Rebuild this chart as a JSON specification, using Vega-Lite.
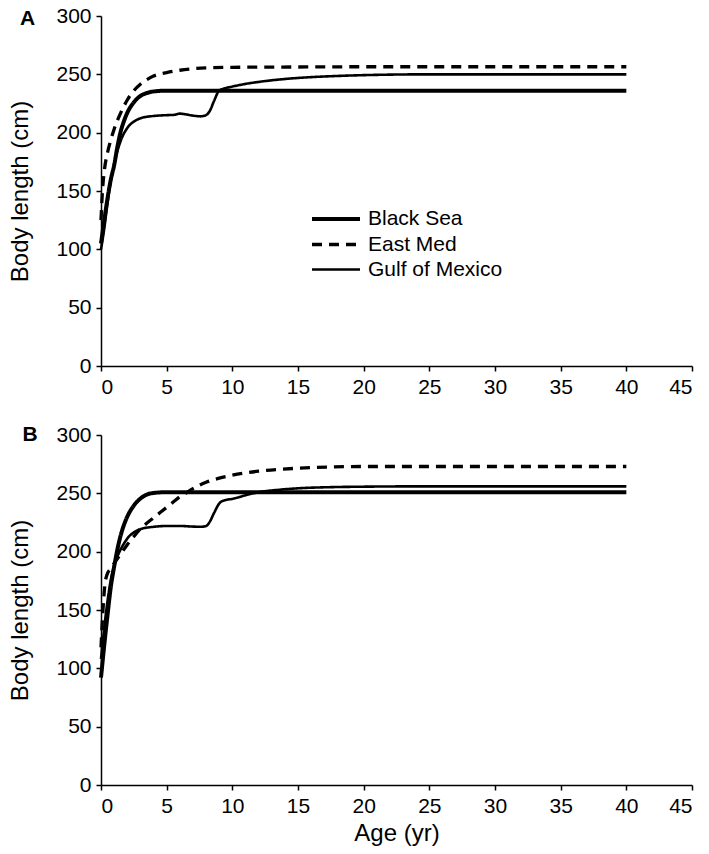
{
  "$schema": "https://vega.github.io/schema/vega-lite/v6.json",
  "autosize": {"type": "pad"},
  "padding": {"left": 8, "top": 5, "right": 4, "bottom": 6},
  "background": "white",
  "config": {
    "view": {"stroke": null},
    "font": "Liberation Sans",
    "axis": {
      "domainColor": "black", "domainWidth": 1.5, "tickColor": "black", "tickWidth": 1.5, "tickSize": 5,
      "labelColor": "black", "labelFontSize": 21, "labelFont": "Liberation Sans", "labelPadding": 5,
      "titleColor": "black", "titleFontSize": 24, "titleFont": "Liberation Sans", "titleFontWeight": "normal",
      "grid": false
    }
  },
  "datasets": {
    "d": [
      {"p":"A","s":"Black Sea","t":0,"v":105},{"p":"A","s":"Black Sea","t":0.25,"v":125},{"p":"A","s":"Black Sea","t":0.5,"v":144},{"p":"A","s":"Black Sea","t":0.75,"v":160},{"p":"A","s":"Black Sea","t":1,"v":172},{"p":"A","s":"Black Sea","t":1.25,"v":188},{"p":"A","s":"Black Sea","t":1.5,"v":201},{"p":"A","s":"Black Sea","t":1.75,"v":210},{"p":"A","s":"Black Sea","t":2,"v":217},{"p":"A","s":"Black Sea","t":2.5,"v":226},{"p":"A","s":"Black Sea","t":3,"v":231.5},{"p":"A","s":"Black Sea","t":3.5,"v":234},{"p":"A","s":"Black Sea","t":4,"v":235.3},{"p":"A","s":"Black Sea","t":5,"v":236},{"p":"A","s":"Black Sea","t":7,"v":236},{"p":"A","s":"Black Sea","t":10,"v":236},{"p":"A","s":"Black Sea","t":20,"v":236},{"p":"A","s":"Black Sea","t":30,"v":236},{"p":"A","s":"Black Sea","t":40,"v":236},
      {"p":"A","s":"East Med","t":0,"v":125},{"p":"A","s":"East Med","t":0.1,"v":148},{"p":"A","s":"East Med","t":0.25,"v":167},{"p":"A","s":"East Med","t":0.5,"v":183},{"p":"A","s":"East Med","t":0.75,"v":194},{"p":"A","s":"East Med","t":1,"v":203},{"p":"A","s":"East Med","t":1.5,"v":217},{"p":"A","s":"East Med","t":2,"v":228},{"p":"A","s":"East Med","t":2.5,"v":236},{"p":"A","s":"East Med","t":3,"v":241.5},{"p":"A","s":"East Med","t":3.5,"v":245.5},{"p":"A","s":"East Med","t":4,"v":248.5},{"p":"A","s":"East Med","t":5,"v":251.5},{"p":"A","s":"East Med","t":6,"v":253.5},{"p":"A","s":"East Med","t":7,"v":254.8},{"p":"A","s":"East Med","t":8,"v":255.5},{"p":"A","s":"East Med","t":10,"v":256},{"p":"A","s":"East Med","t":15,"v":256.3},{"p":"A","s":"East Med","t":20,"v":256.5},{"p":"A","s":"East Med","t":30,"v":256.5},{"p":"A","s":"East Med","t":40,"v":256.5},
      {"p":"A","s":"Gulf of Mexico","t":0,"v":100},{"p":"A","s":"Gulf of Mexico","t":0.25,"v":118},{"p":"A","s":"Gulf of Mexico","t":0.5,"v":140},{"p":"A","s":"Gulf of Mexico","t":0.75,"v":159},{"p":"A","s":"Gulf of Mexico","t":1,"v":173},{"p":"A","s":"Gulf of Mexico","t":1.5,"v":193},{"p":"A","s":"Gulf of Mexico","t":2,"v":204},{"p":"A","s":"Gulf of Mexico","t":2.5,"v":209.5},{"p":"A","s":"Gulf of Mexico","t":3,"v":212.3},{"p":"A","s":"Gulf of Mexico","t":4,"v":214.3},{"p":"A","s":"Gulf of Mexico","t":5,"v":215},{"p":"A","s":"Gulf of Mexico","t":5.6,"v":215.3},{"p":"A","s":"Gulf of Mexico","t":6,"v":216.3},{"p":"A","s":"Gulf of Mexico","t":6.4,"v":215.8},{"p":"A","s":"Gulf of Mexico","t":7,"v":214.6},{"p":"A","s":"Gulf of Mexico","t":7.6,"v":214},{"p":"A","s":"Gulf of Mexico","t":8,"v":215},{"p":"A","s":"Gulf of Mexico","t":8.3,"v":219},{"p":"A","s":"Gulf of Mexico","t":8.6,"v":227},{"p":"A","s":"Gulf of Mexico","t":9,"v":236},{"p":"A","s":"Gulf of Mexico","t":9.5,"v":238.2},{"p":"A","s":"Gulf of Mexico","t":10,"v":239.5},{"p":"A","s":"Gulf of Mexico","t":11,"v":241.8},{"p":"A","s":"Gulf of Mexico","t":12,"v":243.5},{"p":"A","s":"Gulf of Mexico","t":14,"v":246},{"p":"A","s":"Gulf of Mexico","t":16,"v":247.6},{"p":"A","s":"Gulf of Mexico","t":18,"v":248.6},{"p":"A","s":"Gulf of Mexico","t":20,"v":249.3},{"p":"A","s":"Gulf of Mexico","t":25,"v":250},{"p":"A","s":"Gulf of Mexico","t":30,"v":250},{"p":"A","s":"Gulf of Mexico","t":40,"v":250},
      {"p":"B","s":"Black Sea","t":0,"v":92},{"p":"B","s":"Black Sea","t":0.25,"v":120},{"p":"B","s":"Black Sea","t":0.5,"v":146},{"p":"B","s":"Black Sea","t":0.75,"v":170},{"p":"B","s":"Black Sea","t":1,"v":187},{"p":"B","s":"Black Sea","t":1.25,"v":202},{"p":"B","s":"Black Sea","t":1.5,"v":214},{"p":"B","s":"Black Sea","t":1.75,"v":223},{"p":"B","s":"Black Sea","t":2,"v":230},{"p":"B","s":"Black Sea","t":2.5,"v":239.5},{"p":"B","s":"Black Sea","t":3,"v":245.5},{"p":"B","s":"Black Sea","t":3.5,"v":249},{"p":"B","s":"Black Sea","t":4,"v":250.3},{"p":"B","s":"Black Sea","t":5,"v":251},{"p":"B","s":"Black Sea","t":7,"v":251},{"p":"B","s":"Black Sea","t":10,"v":251},{"p":"B","s":"Black Sea","t":20,"v":251},{"p":"B","s":"Black Sea","t":30,"v":251},{"p":"B","s":"Black Sea","t":40,"v":251},
      {"p":"B","s":"East Med","t":0,"v":118},{"p":"B","s":"East Med","t":0.15,"v":150},{"p":"B","s":"East Med","t":0.3,"v":172},{"p":"B","s":"East Med","t":0.45,"v":180},{"p":"B","s":"East Med","t":0.7,"v":185},{"p":"B","s":"East Med","t":1,"v":190},{"p":"B","s":"East Med","t":1.5,"v":198},{"p":"B","s":"East Med","t":2,"v":206},{"p":"B","s":"East Med","t":2.5,"v":213},{"p":"B","s":"East Med","t":3,"v":219.5},{"p":"B","s":"East Med","t":3.5,"v":224.5},{"p":"B","s":"East Med","t":4,"v":229},{"p":"B","s":"East Med","t":4.5,"v":233.5},{"p":"B","s":"East Med","t":5,"v":238},{"p":"B","s":"East Med","t":5.5,"v":242.5},{"p":"B","s":"East Med","t":6,"v":247},{"p":"B","s":"East Med","t":6.5,"v":250.5},{"p":"B","s":"East Med","t":7,"v":254},{"p":"B","s":"East Med","t":7.5,"v":257},{"p":"B","s":"East Med","t":8,"v":259.5},{"p":"B","s":"East Med","t":9,"v":263},{"p":"B","s":"East Med","t":10,"v":265.5},{"p":"B","s":"East Med","t":11,"v":267.5},{"p":"B","s":"East Med","t":12,"v":269},{"p":"B","s":"East Med","t":15,"v":271.5},{"p":"B","s":"East Med","t":20,"v":273},{"p":"B","s":"East Med","t":25,"v":273},{"p":"B","s":"East Med","t":30,"v":273},{"p":"B","s":"East Med","t":40,"v":273},
      {"p":"B","s":"Gulf of Mexico","t":0,"v":108},{"p":"B","s":"Gulf of Mexico","t":0.25,"v":135},{"p":"B","s":"Gulf of Mexico","t":0.5,"v":158},{"p":"B","s":"Gulf of Mexico","t":0.75,"v":176},{"p":"B","s":"Gulf of Mexico","t":1,"v":188},{"p":"B","s":"Gulf of Mexico","t":1.37,"v":199},{"p":"B","s":"Gulf of Mexico","t":1.75,"v":207},{"p":"B","s":"Gulf of Mexico","t":2.13,"v":213},{"p":"B","s":"Gulf of Mexico","t":2.5,"v":216.5},{"p":"B","s":"Gulf of Mexico","t":3,"v":219.3},{"p":"B","s":"Gulf of Mexico","t":4,"v":221.3},{"p":"B","s":"Gulf of Mexico","t":5,"v":222},{"p":"B","s":"Gulf of Mexico","t":6,"v":222},{"p":"B","s":"Gulf of Mexico","t":7,"v":221.5},{"p":"B","s":"Gulf of Mexico","t":7.6,"v":221.3},{"p":"B","s":"Gulf of Mexico","t":8,"v":222},{"p":"B","s":"Gulf of Mexico","t":8.3,"v":226},{"p":"B","s":"Gulf of Mexico","t":8.6,"v":233},{"p":"B","s":"Gulf of Mexico","t":9.1,"v":242.5},{"p":"B","s":"Gulf of Mexico","t":9.5,"v":244.3},{"p":"B","s":"Gulf of Mexico","t":10,"v":245.2},{"p":"B","s":"Gulf of Mexico","t":10.8,"v":247.7},{"p":"B","s":"Gulf of Mexico","t":12,"v":251},{"p":"B","s":"Gulf of Mexico","t":13.5,"v":253},{"p":"B","s":"Gulf of Mexico","t":15,"v":254.3},{"p":"B","s":"Gulf of Mexico","t":17.5,"v":255.3},{"p":"B","s":"Gulf of Mexico","t":20,"v":255.7},{"p":"B","s":"Gulf of Mexico","t":25,"v":256},{"p":"B","s":"Gulf of Mexico","t":30,"v":256},{"p":"B","s":"Gulf of Mexico","t":40,"v":256}
    ],
    "labels": [{"p":"A","lab":"A"},{"p":"B","lab":"B"}]
  },
  "bounds": "flush",
  "spacing": 69,
  "resolve": {"legend": {"strokeDash": "independent", "strokeWidth": "independent"}},
  "vconcat": [
    {
      "width": 591, "height": 350,
      "layer": [
        {
          "data": {"name": "d"},
          "transform": [{"filter": "datum.p === 'A'"}],
          "mark": {"type": "line", "color": "black", "interpolate": "monotone"},
          "encoding": {
            "x": {"field": "t", "type": "quantitative", "scale": {"domain": [0, 45], "nice": false}, "axis": {"title": null, "values": [0,5,10,15,20,25,30,35,40,45]}},
            "y": {"field": "v", "type": "quantitative", "scale": {"domain": [0, 300], "nice": false}, "axis": {"title": "Body length (cm)", "titlePadding": 23, "values": [0,50,100,150,200,250,300]}},
            "strokeDash": {"field": "s", "type": "ordinal", "scale": {"domain": ["Black Sea","East Med","Gulf of Mexico"], "range": [[1,0],[10,7],[1,0]]},
              "legend": {"title": null, "orient": "none", "legendX": 221, "legendY": 189, "symbolType": "M-2,0H2", "symbolSize": 576, "symbolStrokeColor": "black", "symbolFillColor": "transparent", "labelFontSize": 21, "labelColor": "black", "labelFont": "Liberation Sans", "labelOffset": 18, "rowPadding": 1.5, "padding": 0}},
            "strokeWidth": {"field": "s", "type": "ordinal", "scale": {"domain": ["Black Sea","East Med","Gulf of Mexico"], "range": [4, 2.6, 1.1]},
              "legend": {"title": null, "orient": "none", "legendX": 221, "legendY": 189, "symbolType": "M-2,0H2", "symbolSize": 576, "symbolStrokeColor": "black", "symbolFillColor": "transparent", "labelFontSize": 21, "labelColor": "black", "labelFont": "Liberation Sans", "labelOffset": 18, "rowPadding": 1.5, "padding": 0}}
          }
        },
        {
          "data": {"name": "labels"},
          "transform": [{"filter": "datum.p === 'A'"}],
          "mark": {"type": "text", "fontSize": 21, "fontWeight": "bold", "font": "Liberation Sans", "color": "black", "align": "center", "baseline": "alphabetic"},
          "encoding": {
            "text": {"field": "lab"},
            "x": {"datum": -5.6, "type": "quantitative"},
            "y": {"datum": 292, "type": "quantitative"}
          }
        }
      ]
    },
    {
      "width": 591, "height": 350,
      "layer": [
        {
          "data": {"name": "d"},
          "transform": [{"filter": "datum.p === 'B'"}],
          "mark": {"type": "line", "color": "black", "interpolate": "monotone"},
          "encoding": {
            "x": {"field": "t", "type": "quantitative", "scale": {"domain": [0, 45], "nice": false}, "axis": {"title": "Age (yr)", "titlePadding": 5, "values": [0,5,10,15,20,25,30,35,40,45]}},
            "y": {"field": "v", "type": "quantitative", "scale": {"domain": [0, 300], "nice": false}, "axis": {"title": "Body length (cm)", "titlePadding": 23, "values": [0,50,100,150,200,250,300]}},
            "strokeDash": {"field": "s", "type": "ordinal", "scale": {"domain": ["Black Sea","East Med","Gulf of Mexico"], "range": [[1,0],[10,7],[1,0]]}, "legend": null},
            "strokeWidth": {"field": "s", "type": "ordinal", "scale": {"domain": ["Black Sea","East Med","Gulf of Mexico"], "range": [4, 2.6, 1.1]}, "legend": null}
          }
        },
        {
          "data": {"name": "labels"},
          "transform": [{"filter": "datum.p === 'B'"}],
          "mark": {"type": "text", "fontSize": 21, "fontWeight": "bold", "font": "Liberation Sans", "color": "black", "align": "center", "baseline": "alphabetic"},
          "encoding": {
            "text": {"field": "lab"},
            "x": {"datum": -5.4, "type": "quantitative"},
            "y": {"datum": 295, "type": "quantitative"}
          }
        }
      ]
    }
  ]
}
